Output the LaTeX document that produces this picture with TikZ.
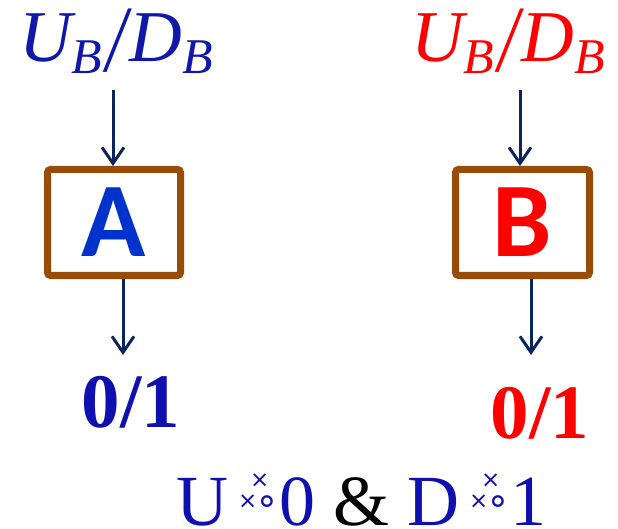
\documentclass[tikz,border=0pt]{standalone}
\usepackage{fontspec}
\setmainfont{Liberation Serif}
\newfontfamily\blkfont{Carlito}
\newfontfamily\symfont{DejaVu Sans}
\usetikzlibrary{arrows.meta,positioning}

\definecolor{lblue}{RGB}{16,24,170}
\definecolor{dblue}{RGB}{16,16,176}
\definecolor{ablue}{RGB}{0,51,204}
\definecolor{boxbrown}{RGB}{153,76,8}
\definecolor{navy}{RGB}{10,36,92}

\newcommand{\subB}{\raisebox{-12pt}{\fontsize{50}{50}\selectfont B}}
\newcommand{\ubdb}{U\subB\hspace{4pt}\raisebox{-10pt}{\scalebox{1}[1.3]{/}}\hspace{3pt}D\subB}
\newcommand{\smallx}{{\symfont\fontsize{23}{23}\selectfont ×}}
\newcommand{\crossring}{\hspace{10pt}\makebox[34pt][l]{%
  \rlap{\raisebox{17pt}{\smallx}}%
  \rlap{\hspace{12pt}\raisebox{38pt}{\smallx}}%
  \hspace{17pt}\raisebox{12pt}{\symfont\fontsize{38}{38}\selectfont ∘}}\hspace{7pt}}

\begin{document}
\begin{tikzpicture}[x=1pt, y=-1pt,
    inlbl/.style={font=\itshape\fontsize{73}{73}\selectfont, inner sep=0pt, anchor=base},
    blk/.style={draw=boxbrown, line width=7pt, rounded corners=3pt, minimum width=133pt, minimum height=106pt, inner sep=0pt, font=\blkfont\bfseries\fontsize{106}{106}\selectfont},
    outlbl/.style={font=\bfseries\fontsize{77}{77}\selectfont, inner sep=0pt},
    arr/.style={-{Straight Barb[length=16pt, width=22pt, line width=3pt]}, line width=3pt, draw=navy}
]
\useasboundingbox (0,0) rectangle (618,529);

\node[inlbl, text=lblue] (inA) at (116,62) {\ubdb};
\node[inlbl, text=red] (inB) at (508,62) {\ubdb};

\node[blk, text=ablue] (A) at (114,222.5) {A};
\node[blk, text=red, minimum width=134pt] (B) at (522.5,222.5) {B};

\coordinate (sA) at (113,90);
\coordinate (sB) at (520,90);
\coordinate (oA) at (123,355);
\coordinate (oB) at (531,355);

\node[outlbl, text=dblue] (valA) at (131,402) {0/1};
\node[outlbl, text=red] (valB) at (540,413) {0/1};

\draw[arr] (sA) -- (sA |- A.north);
\draw[arr] (sB) -- (sB |- B.north);
\draw[arr] (A.south -| oA) -- (oA);
\draw[arr] (B.south -| oB) -- (oB);

\node[anchor=base, inner sep=0pt, text=dblue, font=\fontsize{72}{72}\selectfont] (rule) at (361,525)
  {U\crossring0 \textcolor{black}{\&} D\crossring1};
\end{tikzpicture}
\end{document}
